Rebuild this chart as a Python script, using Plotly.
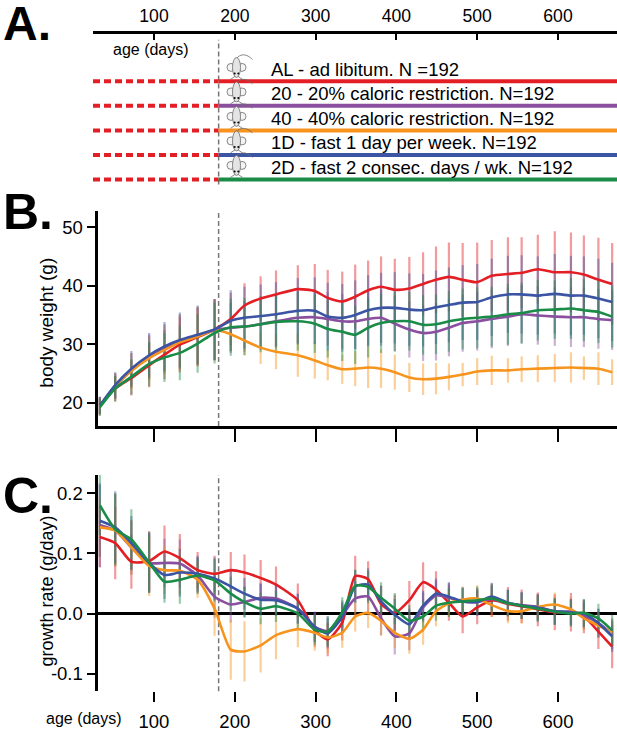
import plotly.graph_objects as go

W, H = 617, 732

# ages (days) at which the error bars / curve points were read
age_days = [33, 52, 72, 94, 113, 132, 154, 175, 195, 212, 232, 251, 278, 299, 315, 333, 349, 365,
            381, 398, 416, 433, 449, 465, 482, 500, 518, 538, 555, 575, 596, 616, 632, 650, 667]
diet_start = 180
axis_ticks = [100, 200, 300, 400, 500, 600]

group_text = [
    "AL - ad libitum. N =192",
    "20 - 20% caloric restriction. N=192",
    "40 - 40% caloric restriction. N=192",
    "1D - fast 1 day per week. N=192",
    "2D - fast 2 consec. days / wk. N=192",
]
group_colors = ["#e31e24", "#8b4f9f", "#f7941d", "#3b54a4", "#1a8c48"]
group_fade = ["rgba(227,30,36,0.45)", "rgba(139,79,159,0.45)", "rgba(247,148,29,0.45)",
              "rgba(59,84,164,0.45)", "rgba(26,140,72,0.45)"]

# B. body weight (g)
weight_al = [19.5, 22.4, 24.2, 26.4, 28.2, 29.9, 31.2, 32.5, 34.3, 36.6, 37.8, 38.5, 39.4, 39.1, 37.9, 37.3, 38.1, 39.2,
             39.8, 39.3, 39.5, 40.3, 41.0, 41.5, 41.0, 40.6, 41.7, 42.0, 42.2, 42.8, 42.3, 42.3, 41.9, 41.0, 40.3]
weight_cr20 = [19.4, 22.8, 25.5, 27.8, 29.2, 30.4, 31.4, 32.4, 32.8, 33.0, 33.4, 33.9, 34.5, 34.6, 34.3, 33.9, 33.9, 34.3,
               34.5, 33.5, 32.5, 31.9, 32.1, 32.8, 33.6, 33.9, 34.3, 34.7, 35.1, 34.9, 34.7, 34.6, 34.6, 34.3, 34.1]
weight_cr40 = [19.3, 22.8, 25.4, 27.6, 29.0, 30.3, 31.3, 32.4, 31.7, 30.6, 29.4, 28.7, 28.1, 27.2, 26.4, 25.7, 25.8, 26.0,
               25.8, 25.2, 24.3, 24.0, 24.1, 24.4, 24.8, 25.3, 25.5, 25.5, 25.7, 25.8, 25.9, 26.0, 25.9, 25.8, 25.2]
weight_1d = [19.5, 23.0, 25.8, 28.1, 29.6, 30.7, 31.6, 32.5, 34.0, 34.5, 34.8, 35.1, 35.7, 35.7, 34.7, 34.5, 35.0, 35.8,
             36.2, 36.2, 35.9, 35.8, 36.3, 36.7, 37.1, 37.2, 38.0, 38.5, 38.5, 38.3, 38.6, 38.3, 38.3, 37.8, 37.2]
weight_2d = [19.2, 22.4, 24.4, 26.6, 27.7, 28.5, 30.1, 31.9, 32.9, 33.0, 33.4, 33.8, 33.9, 33.5, 32.6, 32.1, 31.6, 32.8,
             33.6, 33.9, 33.9, 33.3, 33.4, 33.9, 34.3, 34.5, 34.7, 35.1, 35.3, 35.8, 35.9, 36.1, 35.8, 35.5, 34.7]

weight_sd_al = [1.5, 2.2, 3.0, 3.8, 4.2, 4.7, 5.0, 5.2, 4.5, 3.8, 3.8, 4.1, 4.1, 4.6, 4.8, 5.1, 5.5, 5.1,
                5.2, 5.3, 5.4, 5.4, 5.7, 5.9, 6.3, 6.8, 6.1, 6.3, 6.1, 5.9, 7.0, 6.8, 6.7, 7.2, 7.0]
weight_sd_cr20 = [1.5, 2.2, 3.0, 3.8, 4.2, 4.7, 5.0, 5.2, 4.3, 4.3, 4.4, 4.5, 4.6, 4.6, 4.6, 4.7, 4.7, 4.8,
                  4.8, 4.8, 4.8, 4.8, 4.9, 4.9, 4.9, 5.0, 5.0, 5.0, 5.0, 5.0, 5.0, 5.1, 5.1, 5.1, 5.1]
weight_sd_cr40 = [1.5, 2.2, 3.0, 3.8, 4.2, 4.7, 5.0, 5.2, 3.0, 2.5, 2.8, 3.0, 3.7, 3.1, 2.6, 2.5, 3.0, 3.5,
                  3.3, 3.0, 2.5, 2.7, 2.7, 2.3, 2.0, 2.3, 2.5, 2.1, 2.2, 2.3, 2.4, 2.6, 2.0, 2.8, 2.2]
weight_sd_1d = [1.5, 2.2, 3.0, 3.8, 4.2, 4.7, 5.0, 5.2, 5.2, 5.3, 5.4, 5.5, 5.6, 5.7, 5.8, 5.8, 5.9, 6.0,
                6.0, 6.1, 6.2, 6.2, 6.3, 6.4, 6.4, 6.5, 6.6, 6.6, 6.7, 6.7, 6.8, 6.8, 6.7, 6.8, 6.7]
weight_sd_2d = [1.5, 2.2, 3.0, 3.8, 4.2, 4.7, 5.0, 5.2, 4.9, 4.9, 4.8, 4.9, 5.0, 5.0, 4.9, 5.0, 5.0, 5.1,
                5.1, 5.1, 5.0, 5.1, 5.1, 5.2, 5.2, 5.2, 5.1, 5.2, 5.2, 5.2, 5.0, 5.2, 5.3, 5.3, 5.3]

# C. growth rate (g/day)
rate_al = [0.127, 0.117, 0.086, 0.087, 0.103, 0.092, 0.072, 0.066, 0.072, 0.068, 0.059, 0.048, 0.022, -0.028,
           -0.043, -0.015, 0.062, 0.057, 0.016, 0.001, 0.022, 0.052, 0.040, 0.018, -0.005, 0.010, 0.022, 0.016,
           0.012, 0.007, 0.002, 0.002, -0.005, -0.030, -0.055]
rate_cr20 = [0.147, 0.138, 0.110, 0.084, 0.084, 0.083, 0.063, 0.028, 0.015, 0.019, 0.026, 0.025, 0.008, -0.022,
             -0.029, -0.003, 0.025, 0.028, -0.008, -0.038, -0.033, 0.010, 0.030, 0.026, 0.020, 0.019, 0.024, 0.017,
             0.014, 0.011, 0.003, 0.003, -0.004, -0.016, -0.034]
rate_cr40 = [0.143, 0.138, 0.110, 0.079, 0.072, 0.071, 0.056, 0.008, -0.060, -0.063, -0.053, -0.036, -0.026, -0.032,
             -0.040, -0.032, -0.005, 0.001, -0.012, -0.032, -0.042, -0.027, 0.004, 0.017, 0.023, 0.025, 0.014, 0.004,
             0.004, 0.011, 0.015, 0.007, -0.008, -0.020, -0.032]
rate_1d = [0.154, 0.143, 0.117, 0.084, 0.064, 0.068, 0.066, 0.058, 0.045, 0.033, 0.023, 0.022, 0.008, -0.022,
           -0.033, -0.006, 0.045, 0.048, 0.020, -0.002, -0.018, 0.013, 0.033, 0.028, 0.020, 0.019, 0.028, 0.018,
           0.013, 0.010, 0.004, 0.002, 0.000, -0.016, -0.038]
rate_2d = [0.180, 0.140, 0.123, 0.085, 0.053, 0.056, 0.063, 0.055, 0.033, 0.019, 0.008, 0.012, 0.000, -0.027,
           -0.030, 0.002, 0.046, 0.044, 0.026, 0.008, -0.012, -0.005, 0.013, 0.018, 0.020, 0.022, 0.025, 0.017,
           0.013, 0.008, 0.003, 0.000, 0.001, -0.008, -0.028]

rate_sd_al = [0.05, 0.06, 0.045, 0.05, 0.043, 0.04, 0.03, 0.03, 0.03, 0.03, 0.03, 0.03, 0.028, 0.028, 0.028, 0.03,
              0.034, 0.03, 0.03, 0.03, 0.032, 0.033, 0.03, 0.03, 0.028, 0.028, 0.028, 0.028, 0.028, 0.028, 0.03,
              0.032, 0.028, 0.029, 0.036]
rate_sd_cr20 = [0.07, 0.06, 0.045, 0.05, 0.04, 0.04, 0.03, 0.035, 0.03, 0.025, 0.025, 0.025, 0.025, 0.025, 0.025,
                0.025, 0.028, 0.028, 0.028, 0.03, 0.028, 0.025, 0.025, 0.025, 0.022, 0.022, 0.022, 0.022, 0.022,
                0.022, 0.022, 0.022, 0.022, 0.024, 0.026]
rate_sd_cr40 = [0.05, 0.06, 0.045, 0.05, 0.04, 0.04, 0.03, 0.045, 0.05, 0.05, 0.045, 0.04, 0.03, 0.03, 0.025,
                0.025, 0.025, 0.025, 0.025, 0.025, 0.025, 0.025, 0.025, 0.022, 0.022, 0.022, 0.02, 0.02, 0.02,
                0.02, 0.02, 0.02, 0.02, 0.02, 0.022]
rate_sd_1d = [0.06, 0.06, 0.045, 0.05, 0.04, 0.04, 0.03, 0.035, 0.028, 0.026, 0.026, 0.026, 0.025, 0.025, 0.025,
              0.025, 0.027, 0.027, 0.026, 0.026, 0.026, 0.025, 0.025, 0.024, 0.023, 0.023, 0.023, 0.022, 0.022,
              0.022, 0.022, 0.022, 0.023, 0.024, 0.026]
rate_sd_2d = [0.05, 0.06, 0.05, 0.05, 0.035, 0.04, 0.03, 0.035, 0.028, 0.026, 0.026, 0.026, 0.025, 0.025, 0.025,
              0.025, 0.027, 0.027, 0.026, 0.026, 0.026, 0.025, 0.025, 0.024, 0.023, 0.023, 0.023, 0.022, 0.022,
              0.022, 0.022, 0.022, 0.023, 0.024, 0.026]

weights = [weight_al, weight_cr20, weight_cr40, weight_1d, weight_2d]
weight_sds = [weight_sd_al, weight_sd_cr20, weight_sd_cr40, weight_sd_1d, weight_sd_2d]
rates = [rate_al, rate_cr20, rate_cr40, rate_1d, rate_2d]
rate_sds = [rate_sd_al, rate_sd_cr20, rate_sd_cr40, rate_sd_1d, rate_sd_2d]

FONT = "Liberation Sans, Arial, Helvetica, sans-serif"
X_RANGE = [30.1, 673.0]
XA_RANGE = [24.5, 673.0]


def px(x):
    return x / W


def py(y):
    return 1 - y / H


def mouse(cx, top):
    edge = dict(color="#6b6b6b", width=0.8)
    out = [dict(type="path", xref="paper", yref="paper", line=edge,
                path=f"M {px(cx)},{py(top + 2)} C {px(cx + 4)},{py(top - 3)} {px(cx + 10)},{py(top - 3)} "
                     f"{px(cx + 16)},{py(top + 3)}")]
    for dx in (-5.5, 5.5):
        out.append(dict(type="circle", xref="paper", yref="paper", line=edge, fillcolor="#f4f4f4",
                        x0=px(cx + dx - 4), x1=px(cx + dx + 4), y0=py(top + 15), y1=py(top + 7)))
    out.append(dict(type="circle", xref="paper", yref="paper", line=edge, fillcolor="#e4e4e4",
                    x0=px(cx - 4), x1=px(cx + 4), y0=py(top + 21), y1=py(top + 1)))
    for dx in (-1.8, 1.8):
        out.append(dict(type="circle", xref="paper", yref="paper", line=dict(width=0), fillcolor="black",
                        x0=px(cx + dx - 1), x1=px(cx + dx + 1), y0=py(top + 18), y1=py(top + 16)))
    for dx in (-1, 1):
        out.append(dict(type="line", xref="paper", yref="paper", line=edge,
                        x0=px(cx + dx * 1.5), y0=py(top + 20), x1=px(cx + dx * 6), y1=py(top + 23)))
    return out


fig = go.Figure()

# A. timeline
for i, (txt, col) in enumerate(zip(group_text, group_colors)):
    fig.add_trace(go.Scatter(x=[XA_RANGE[0], diet_start], y=[i, i], mode="lines", xaxis="x", yaxis="y",
                             line=dict(color="#e31e24", width=4, dash="7px,4px")))
    fig.add_trace(go.Scatter(x=[diet_start, XA_RANGE[1]], y=[i, i], mode="lines", xaxis="x", yaxis="y",
                             line=dict(color=col, width=4)))

# B. and C. error bars first, curves on top
for axes, series, sds in (("2", weights, weight_sds), ("3", rates, rate_sds)):
    for vals, sd, fade in zip(series, sds, group_fade):
        fig.add_trace(go.Scatter(x=age_days, y=vals, mode="markers", xaxis="x" + axes, yaxis="y" + axes,
                                 marker=dict(size=2, color="rgba(0,0,0,0)"),
                                 error_y=dict(type="data", array=sd, visible=True, color=fade,
                                              thickness=2.2, width=0)))
    for vals, col in zip(series, group_colors):
        fig.add_trace(go.Scatter(x=age_days, y=vals, mode="lines", xaxis="x" + axes, yaxis="y" + axes,
                                 line=dict(color=col, width=2.6, shape="spline", smoothing=0.6)))

shapes = []
for i in range(len(group_text)):
    shapes += mouse(236.5, 56.7 + 24.6 * i)

dash_line = dict(color="#777777", width=1.5, dash="5px,3px")
shapes.append(dict(type="line", xref="x", yref="y domain", x0=diet_start, x1=diet_start, y0=0.03, y1=0.96,
                   line=dash_line, layer="below"))
for axes in ("2", "3"):
    shapes.append(dict(type="line", xref="x" + axes, yref="y" + axes + " domain", x0=diet_start, x1=diet_start,
                       y0=0, y1=1, line=dash_line, layer="below"))

annotations = [
    dict(text="<b>A.</b>", x=px(1), y=py(24), xanchor="left", yanchor="middle", font=dict(size=48)),
    dict(text="<b>B.</b>", x=px(1), y=py(213), xanchor="left", yanchor="middle", font=dict(size=50)),
    dict(text="<b>C.</b>", x=px(1), y=py(498), xanchor="left", yanchor="middle", font=dict(size=50)),
    dict(text="age (days)", x=px(150.7), y=py(50), xanchor="center", yanchor="middle", font=dict(size=16)),
    dict(text="age (days)", x=px(44), y=py(721), xanchor="left", yanchor="middle", font=dict(size=16)),
    dict(text="body weight (g)", x=px(47), y=py(324), textangle=-90, xanchor="center", yanchor="middle",
         font=dict(size=19)),
    dict(text="growth rate (g/day)", x=px(47), y=py(594), textangle=-90, xanchor="center", yanchor="middle",
         font=dict(size=18)),
]
for i, txt in enumerate(group_text):
    annotations.append(dict(text=txt, x=px(269), y=py(81.7 + 24.6 * i - 12), xanchor="left", yanchor="middle",
                            font=dict(size=18.5)))
for a in annotations:
    a.update(xref="paper", yref="paper", showarrow=False)

axis_common = dict(showgrid=False, zeroline=False, color="black", linecolor="black", tickcolor="black")

fig.update_layout(
    width=W, height=H, margin=dict(l=0, r=0, t=0, b=0),
    paper_bgcolor="white", plot_bgcolor="white", showlegend=False,
    font=dict(family=FONT, color="black"),
    shapes=shapes, annotations=annotations,
    xaxis=dict(axis_common, domain=[px(93), 1], range=XA_RANGE, anchor="y", side="top", showline=True,
               linewidth=3, ticks="inside", ticklen=6, tickwidth=2, tickvals=axis_ticks,
               tickfont=dict(size=17.6), ticklabelstandoff=2),
    yaxis=dict(axis_common, domain=[py(190), py(33.7)], range=[4.4, -1.95], visible=False),
    xaxis2=dict(axis_common, domain=[px(97.5), 1], range=X_RANGE, anchor="y2", showline=True, linewidth=3,
                ticks="outside", ticklen=13, tickwidth=1.5, tickvals=axis_ticks, showticklabels=False),
    yaxis2=dict(axis_common, domain=[py(427.7), py(211.7)], range=[16.0, 52.8], anchor="x2", showline=True,
                linewidth=3, ticks="outside", ticklen=8, tickwidth=1.5, tickvals=[20, 30, 40, 50],
                tickfont=dict(size=18.5)),
    xaxis3=dict(axis_common, domain=[px(97.5), 1], range=X_RANGE, anchor="y3", showline=False,
                ticks="outside", ticklen=10, tickwidth=1.5, tickvals=axis_ticks, tickfont=dict(size=18.5),
                ticklabelstandoff=4),
    yaxis3=dict(axis_common, domain=[py(694), py(477)], range=[-0.129, 0.230], anchor="x3", showline=True,
                linewidth=3, ticks="outside", ticklen=8, tickwidth=1.5, tickvals=[-0.1, 0.0, 0.1, 0.2],
                ticktext=["-0.1", "0.0", "0.1", "0.2"], tickfont=dict(size=18.5),
                zeroline=True, zerolinecolor="black", zerolinewidth=3),
)

# the page body has a default 8px margin; drop it so the figure sits at the window's corner
fig.write_html("out.html", config={"displayModeBar": False},
               post_script="document.body.style.margin = '0px';")
